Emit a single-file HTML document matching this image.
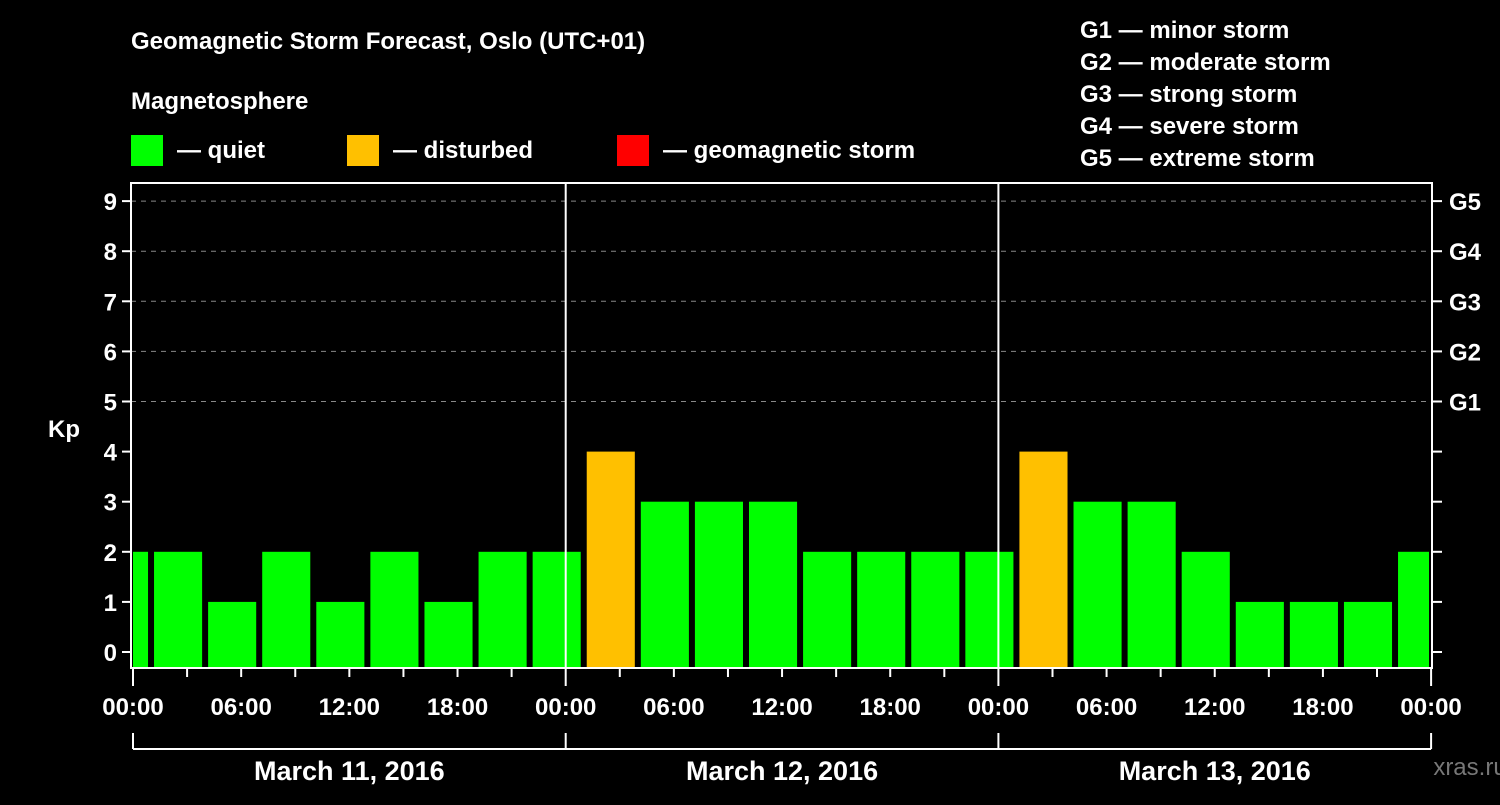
<!DOCTYPE html>
<html><head><meta charset="utf-8"><style>
body{margin:0;background:#000;width:1500px;height:800px;overflow:hidden}
svg text{font-family:"Liberation Sans",sans-serif;font-weight:bold;fill:#fff}
</style></head><body>
<svg id="c" width="1500" height="800" xmlns="http://www.w3.org/2000/svg">
<text x="131" y="49" font-size="24">Geomagnetic Storm Forecast, Oslo (UTC+01)</text>
<text x="131" y="109" font-size="24">Magnetosphere</text>
<g><rect x="131" y="135" width="32" height="31" fill="#00ff00"/><text x="177" y="158" font-size="24">— quiet</text></g>
<g><rect x="347" y="135" width="32" height="31" fill="#ffc000"/><text x="393" y="158" font-size="24">— disturbed</text></g>
<g><rect x="617" y="135" width="32" height="31" fill="#ff0000"/><text x="663" y="158" font-size="24">— geomagnetic storm</text></g>
<g font-size="24">
<text x="1080" y="38">G1 — minor storm</text><text x="1080" y="70">G2 — moderate storm</text><text x="1080" y="102">G3 — strong storm</text><text x="1080" y="134">G4 — severe storm</text><text x="1080" y="166">G5 — extreme storm</text></g>
<text x="64" y="437" font-size="24" text-anchor="middle">Kp</text>
<text x="1470" y="775" font-size="24" text-anchor="middle" fill="#777" style="fill:#777;font-weight:normal">xras.ru</text>
<g id="plot"></g>
</svg>
<script>
const kpValues=[2,2,1,2,1,2,1,2,2,4,3,3,3,2,2,2,2,4,3,3,2,1,1,1,2];
const startHour=-2;
const dayLabels=["March 11, 2016","March 12, 2016","March 13, 2016"];
const yTicks=[0,1,2,3,4,5,6,7,8,9];
const gLabels=["G1","G2","G3","G4","G5"];
const timeLabels=["00:00","06:00","12:00","18:00"];
const X0=133,DAY=432.7,L=131,R=1432,T=183,B=668;
const x=h=>X0+h*DAY/24;
const y=v=>652-50.1*v;
const g=document.getElementById('plot');
const NS="http://www.w3.org/2000/svg";
function mk(tag,attrs,parent){const e=document.createElementNS(NS,tag);for(const k in attrs)e.setAttribute(k,attrs[k]);(parent||g).appendChild(e);return e;}
yTicks.forEach(v=>{
 if(v>=5){const l=mk('line',{x1:L,x2:R,y1:y(v),y2:y(v),stroke:'#888','stroke-dasharray':'5,5','stroke-width':1});
 
 }
 const t=mk('line',{x1:122,x2:L,y1:y(v),y2:y(v),stroke:'#fff','stroke-width':2});
 
 
 const t2=mk('line',{x1:R,x2:1442,y1:y(v),y2:y(v),stroke:'#fff','stroke-width':2});
 
 
 const tx=mk('text',{x:117,y:y(v)+9,'font-size':24,'text-anchor':'end'});tx.textContent=v;
 
 
});
gLabels.forEach((s,i)=>{const tx=mk('text',{x:1449,y:y(5+i)+9,'font-size':24});tx.textContent=s;
 
 });
kpValues.forEach((v,i)=>{
 let a=x(startHour+3*i)+3,b=x(startHour+3*i+3)-3;
 a=Math.max(a,L+2);b=Math.min(b,R-3);
 const c=v>=5?'#ff0000':(v>=4?'#ffc000':'#00ff00');
 const r=mk('rect',{x:a,y:y(v),width:b-a,height:B-y(v),fill:c});
 
 
});
for(let d=1;d<3;d++){const l=mk('line',{x1:x(24*d),x2:x(24*d),y1:T,y2:B,stroke:'#fff','stroke-width':2});
 
 }
const f=mk('rect',{x:L,y:T,width:R-L,height:B-T,fill:'none',stroke:'#fff','stroke-width':2});


for(let h=0;h<=72;h+=3){const long=h%24==0;
 const t=mk('line',{x1:x(h),x2:x(h),y1:B,y2:long?686:677,stroke:'#fff','stroke-width':2});
 
 
 if(h%6==0){const tx=mk('text',{x:x(h),y:715,'font-size':24,'text-anchor':'middle'});tx.textContent=timeLabels[(h%24)/6];
 
 }}
const br=mk('line',{x1:x(0),x2:x(72),y1:749,y2:749,stroke:'#fff','stroke-width':2});


for(let d=0;d<=3;d++){const t=mk('line',{x1:x(24*d),x2:x(24*d),y1:733,y2:749,stroke:'#fff','stroke-width':2});
 
 }
dayLabels.forEach((s,d)=>{const tx=mk('text',{x:x(24*d+12),y:780,'font-size':27,'text-anchor':'middle'});tx.textContent=s;
 
 });
</script>
</body></html>
